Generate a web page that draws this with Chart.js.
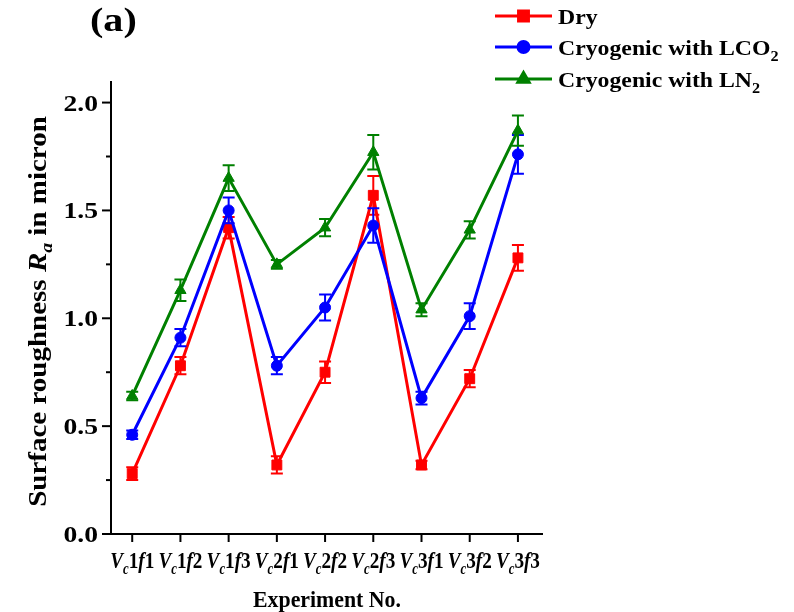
<!DOCTYPE html>
<html>
<head>
<meta charset="utf-8">
<script src="https://cdn.jsdelivr.net/npm/chart.js@4/dist/chart.umd.min.js"></script>
<style>
  html, body { margin: 0; padding: 0; background: #fff; }
  #wrap { width: 794px; height: 612px; }
</style>
</head>
<body>
<div id="wrap"><canvas id="roughChart" width="794" height="612"></canvas></div>
<script>
// experiment labels: cutting speed level / feed level
const tickLabels = ["Vc1f1", "Vc1f2", "Vc1f3", "Vc2f1", "Vc2f2", "Vc2f3", "Vc3f1", "Vc3f2", "Vc3f3"];
const yTicks = [0, 0.25, 0.5, 0.75, 1.0, 1.25, 1.5, 1.75, 2.0];

// Ra (micron) and error bar half-widths
const dry = [0.28, 0.78, 1.42, 0.32, 0.75, 1.57, 0.32, 0.72, 1.28];
const dryErr = [0.03, 0.04, 0.05, 0.04, 0.05, 0.09, 0.02, 0.04, 0.06];
const lco2 = [0.46, 0.91, 1.50, 0.78, 1.05, 1.43, 0.63, 1.01, 1.76];
const lco2Err = [0.02, 0.04, 0.06, 0.04, 0.06, 0.08, 0.03, 0.06, 0.09];
const ln2 = [0.64, 1.13, 1.65, 1.25, 1.42, 1.77, 1.04, 1.41, 1.87];
const ln2Err = [0.02, 0.05, 0.06, 0.02, 0.04, 0.08, 0.03, 0.04, 0.07];

const FONT = '"Liberation Serif", "Times New Roman", serif';

// draw a run of text pieces [text, italic, subscript], optionally stretched horizontally
function drawParts(ctx, parts, x, y, size, align, stretch) {
  stretch = stretch || 1;
  const fontFor = (p) => (p[1] ? "italic " : "") + "bold " + (p[2] ? Math.round(size * 0.68) : size) + "px " + FONT;
  let total = 0;
  parts.forEach(p => { ctx.font = fontFor(p); total += ctx.measureText(p[0]).width; });
  const w = total * stretch;
  const sx = align === "center" ? x - w / 2 : align === "right" ? x - w : x;
  ctx.save();
  ctx.translate(sx, y);
  ctx.scale(stretch, 1);
  ctx.textAlign = "left";
  ctx.textBaseline = "alphabetic";
  let cx = 0;
  parts.forEach(p => {
    ctx.font = fontFor(p);
    ctx.fillText(p[0], cx, p[2] ? size * 0.25 : 0);
    cx += ctx.measureText(p[0]).width;
  });
  ctx.restore();
}

function labelParts(lbl) {
  // "Vc1f2" -> V (italic) c (italic sub) 1 f (italic) 2
  return [["V", true, false], ["c", true, true], [lbl[2], false, false], ["f", true, false], [lbl[4], false, false]];
}

const series = [
  { label: [["Dry", false, false]], data: dry, err: dryErr, color: "#ff0000", style: "rect", radius: 7 },
  { label: [["Cryogenic with LCO", false, false], ["2", false, true]], data: lco2, err: lco2Err, color: "#0000ff", style: "circle", radius: 5.5 },
  { label: [["Cryogenic with LN", false, false], ["2", false, true]], data: ln2, err: ln2Err, color: "#008000", style: "triangle", radius: 6.5 }
];

const decor = {
  id: "decor",
  afterDatasetDraw(chart, args) {
    const s = series[args.index];
    const xs = chart.scales.x, ys = chart.scales.y;
    const ctx = chart.ctx;
    ctx.save();
    ctx.strokeStyle = s.color;
    ctx.lineWidth = 2;
    s.data.forEach((v, i) => {
      const px = xs.getPixelForValue(i + 1);
      const top = ys.getPixelForValue(v + s.err[i]);
      const bot = ys.getPixelForValue(v - s.err[i]);
      ctx.beginPath();
      ctx.moveTo(px, top); ctx.lineTo(px, bot);
      ctx.moveTo(px - 6, top); ctx.lineTo(px + 6, top);
      ctx.moveTo(px - 6, bot); ctx.lineTo(px + 6, bot);
      ctx.stroke();
    });
    ctx.restore();
  },
  afterDraw(chart) {
    const ctx = chart.ctx;
    const a = chart.chartArea;
    const xs = chart.scales.x, ys = chart.scales.y;
    ctx.save();
    ctx.strokeStyle = "#000";
    ctx.fillStyle = "#000";
    ctx.lineWidth = 2;

    // axis lines
    ctx.beginPath();
    ctx.moveTo(a.left, a.top); ctx.lineTo(a.left, a.bottom);
    ctx.lineTo(a.right, a.bottom);
    ctx.stroke();

    // y ticks, major every 0.5
    yTicks.forEach(v => {
      const py = ys.getPixelForValue(v);
      const major = Math.abs(v * 2 - Math.round(v * 2)) < 1e-6;
      ctx.beginPath();
      ctx.moveTo(a.left, py); ctx.lineTo(a.left - (major ? 9 : 5), py);
      ctx.stroke();
      if (major) {
        drawParts(ctx, [[v.toFixed(1), false, false]], a.left - 13, py + 8, 23, "right", 1.2);
      }
    });

    // x ticks and labels
    tickLabels.forEach((lbl, i) => {
      const px = xs.getPixelForValue(i + 1);
      ctx.beginPath();
      ctx.moveTo(px, a.bottom); ctx.lineTo(px, a.bottom + 8);
      ctx.stroke();
      drawParts(ctx, labelParts(lbl), px, a.bottom + 34, 24, "center", 0.8);
    });

    // axis titles
    drawParts(ctx, [["Experiment No.", false, false]], (a.left + a.right) / 2, 607, 24, "center", 0.91);

    ctx.save();
    ctx.translate(46, (a.top + a.bottom) / 2 + 4);
    ctx.rotate(-Math.PI / 2);
    drawParts(ctx, [["Surface roughness ", false, false], ["R", true, false], ["a", true, true], [" in micron", false, false]], 0, 0, 25, "center", 1.16);
    ctx.restore();

    // panel tag
    drawParts(ctx, [["(a)", false, false]], 90, 31, 34, "left", 1.18);

    // legend
    const rows = [16, 47, 79];
    series.forEach((s, k) => {
      const ly = rows[k];
      ctx.strokeStyle = s.color;
      ctx.fillStyle = s.color;
      ctx.lineWidth = 3;
      ctx.beginPath();
      ctx.moveTo(495, ly); ctx.lineTo(552, ly);
      ctx.stroke();
      Chart.helpers.drawPoint(ctx, { pointStyle: s.style, radius: s.radius, rotation: 0, borderWidth: 1 }, 523.5, ly);
      ctx.fillStyle = "#000";
      drawParts(ctx, s.label, 558, ly + 8, 22, "left", 1.08);
    });
    ctx.restore();
  }
};

new Chart(document.getElementById("roughChart").getContext("2d"), {
  type: "line",
  data: {
    datasets: series.map((s, k) => ({
      label: s.label.map(p => p[0]).join(""),
      data: s.data.map((v, i) => ({ x: i + 1, y: v })),
      borderColor: s.color,
      backgroundColor: s.color,
      borderWidth: 3,
      pointStyle: s.style,
      pointRadius: s.radius,
      pointBorderWidth: 1,
      pointBackgroundColor: s.color,
      pointBorderColor: s.color,
      tension: 0,
      clip: false,
      order: 3 - k
    }))
  },
  options: {
    responsive: false,
    animation: false,
    layout: { padding: { left: 111, right: 251, top: 81, bottom: 78 } },
    plugins: { legend: { display: false }, tooltip: { enabled: false } },
    scales: {
      x: { type: "linear", min: 0.56, max: 9.52, display: false },
      y: { type: "linear", min: 0, max: 2.1, display: false }
    }
  },
  plugins: [decor]
});
</script>
</body>
</html>
